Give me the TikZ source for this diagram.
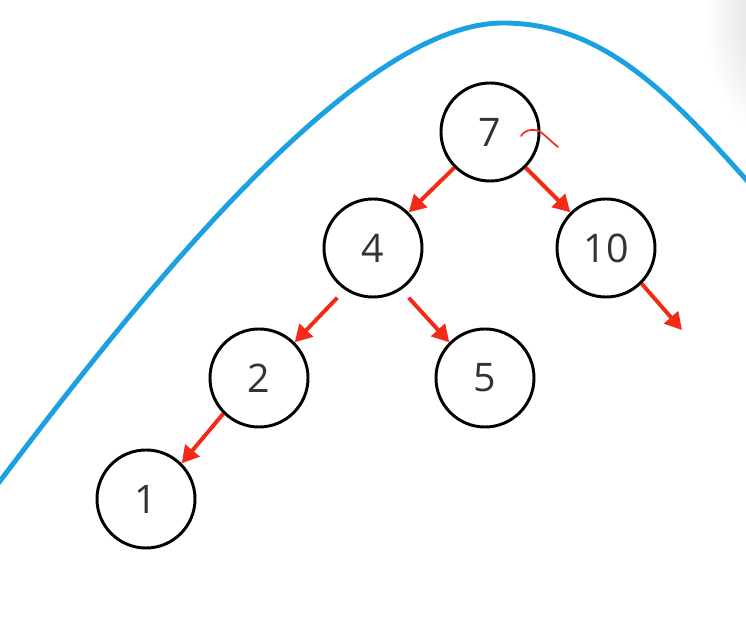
\documentclass[tikz,border=0pt]{standalone}
\usepackage{fontspec}
\setmainfont{Open Sans}
\usetikzlibrary{arrows.meta}
\definecolor{curveblue}{HTML}{1BA1E2}
\definecolor{linkred}{HTML}{F22A17}
\definecolor{digitgray}{HTML}{333333}
\tikzset{
  keynode/.style={
    circle, draw=black, fill=white, line width=2.1pt,
    minimum size=2.45cm, inner sep=0pt,
    font=\fontsize{28}{30}\selectfont, text=digitgray
  },
  link/.style={-{Triangle[length=12pt, width=13pt]}, line width=2.8pt, linkred},
  hull/.style={curveblue, line width=3.5pt, line cap=round}
}
\begin{document}
\begin{tikzpicture}[x=0.025cm, y=-0.025cm]
  \useasboundingbox (0,0) rectangle (746,642);

  % faint shadow in the corner
  \begin{scope}
    \clip (0,0) rectangle (746,642);
    \shade[inner color=gray!30, outer color=white] (775,20) ellipse (70 and 120);
  \end{scope}

  % big curve
  \draw[hull] (-3,485) .. controls (130,309) and (353,23) .. (503,23)
    .. controls (603,23) and (670,94) .. (750,184);

  % tree nodes
  \node[keynode] (n7)  at (490,132) {7};
  \node[keynode] (n4)  at (373,248) {4};
  \node[keynode] (n10) at (606,248) {10};
  \node[keynode] (n2)  at (259,378) {2};
  \node[keynode] (n5)  at (485,378) {5};
  \node[keynode] (n1)  at (146,499) {1};
  \coordinate (tail) at (682,330);

  % links
  \draw[link] (n7.south west) -- (n4.north east);
  \draw[link] (n7.south east) -- (n10.north west);
  \draw[link] ([shift={(0,14)}]n4.south west) -- (n2.north east);
  \draw[link] ([shift={(0,14)}]n4.south east) -- (n5.north west);
  \draw[link] (n2.south west) -- (n1.north east);
  \draw[link] (n10.south east) -- (tail);

  % scribble
  \draw[linkred, line width=1.2pt, line cap=round]
    (521,136) .. controls (525,129) and (536,128) .. (542,133)
    .. controls (548,138) and (553,143) .. (558,147);

\end{tikzpicture}
\end{document}
